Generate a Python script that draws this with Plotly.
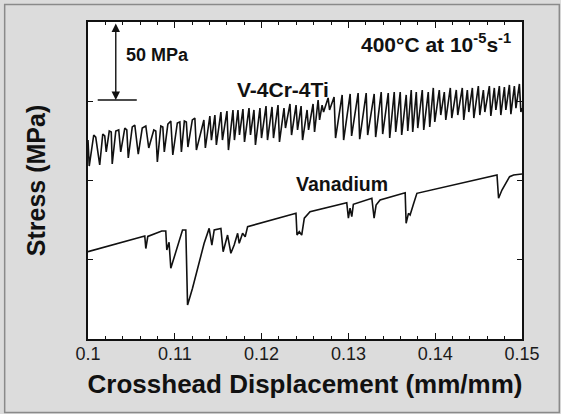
import plotly.graph_objects as go

# ---- data (displacement mm/mm, stress MPa; stress axis has no printed values) ----
van_x = [0.10000, 0.10654, 0.10666, 0.10689, 0.10850, 0.10896, 0.10908, 0.10934, 0.10954,
         0.11089, 0.11127, 0.11147, 0.11204, 0.11281, 0.11338, 0.11396, 0.11427, 0.11454,
         0.11531, 0.11557, 0.11608, 0.11646, 0.11684, 0.11724, 0.11742, 0.11781, 0.11811,
         0.11839, 0.12396, 0.12408, 0.12434, 0.12462, 0.12492, 0.12558, 0.12981, 0.13000,
         0.13019, 0.13039, 0.13057, 0.13270, 0.13296, 0.13319, 0.13365, 0.13654, 0.13665,
         0.13692, 0.13711, 0.13749, 0.13789, 0.14712, 0.14730, 0.14769, 0.14819, 0.14857,
         0.14903, 0.15000]
van_y = [255.1, 265.0, 257.1, 264.7, 268.1, 268.1, 256.2, 261.0, 244.6,
         268.8, 268.8, 221.5, 232.0, 248.8, 260.4, 269.8, 259.3, 268.8,
         269.8, 255.1, 265.6, 254.1, 259.3, 266.7, 260.4, 266.7, 264.5,
         270.9, 279.3, 265.6, 267.7, 265.6, 276.2, 280.3, 286.0, 276.2,
         282.5, 277.2, 285.0, 288.8, 276.2, 284.5, 287.7, 292.3, 273.0,
         279.3, 278.2, 285.0, 291.9, 303.5, 288.8, 294.0, 299.2, 302.4,
         303.5, 304.1]

alloy_x = [0.10000, 0.10014, 0.10066, 0.10089, 0.10135, 0.10170, 0.10193, 0.10210, 0.10245, 0.10268,
           0.10279, 0.10320, 0.10354, 0.10377, 0.10424, 0.10447, 0.10464, 0.10510, 0.10539, 0.10579,
           0.10625, 0.10666, 0.10700, 0.10758, 0.10781, 0.10799, 0.10839, 0.10862, 0.10879, 0.10920,
           0.10954, 0.10977, 0.11029, 0.11058, 0.11076, 0.11110, 0.11133, 0.11151, 0.11202, 0.11231,
           0.11249,
           0.11335, 0.11352, 0.11404, 0.11422, 0.11462, 0.11479,
           0.11531, 0.11549, 0.11601, 0.11618, 0.11670, 0.11687, 0.11728, 0.11745, 0.11785, 0.11803,
           0.11855, 0.11872, 0.11912, 0.11929, 0.11981, 0.11999, 0.12051, 0.12068, 0.12120, 0.12137,
           0.12189, 0.12206, 0.12258, 0.12275, 0.12327, 0.12345, 0.12397, 0.12414, 0.12455, 0.12472,
           0.12524, 0.12541, 0.12593, 0.12610, 0.12651, 0.12668, 0.12697, 0.12714, 0.12766, 0.12783,
           0.12835, 0.12852, 0.12928, 0.12945, 0.13020, 0.13037, 0.13112, 0.13130, 0.13205, 0.13222,
           0.13297, 0.13314, 0.13378, 0.13395, 0.13459, 0.13476, 0.13528, 0.13545, 0.13597, 0.13614,
           0.13666, 0.13684, 0.13724, 0.13741, 0.13782, 0.13799, 0.13851, 0.13868, 0.13920, 0.13937,
           0.13978, 0.13995, 0.14047, 0.14064, 0.14105, 0.14122, 0.14174, 0.14191, 0.14243, 0.14260,
           0.14312, 0.14329, 0.14370, 0.14387, 0.14428, 0.14445, 0.14497, 0.14514, 0.14555, 0.14572,
           0.14624, 0.14641, 0.14681, 0.14699, 0.14739, 0.14756, 0.14797, 0.14814, 0.14855, 0.14872,
           0.14912, 0.14930, 0.14970, 0.14987, 0.15000]
alloy_y = [325.5, 309.1, 328.7, 327.4, 309.8, 329.3, 328.1, 318.0, 331.2, 330.6,
           310.4, 331.2, 331.9, 318.0, 333.1, 331.9, 314.2, 333.8, 335.0, 316.7,
           333.1, 334.4, 320.5, 331.9, 331.2, 311.7, 334.4, 333.8, 318.0, 335.6,
           337.5, 316.1, 336.3, 336.9, 318.0, 337.5, 336.9, 321.1, 338.2, 339.4,
           319.2,
           338.2, 320.5, 340.7, 325.5, 341.3, 322.4,
           343.2, 325.5, 343.8, 319.2, 344.5, 325.5, 344.5, 328.7, 345.1, 324.3,
           345.7, 328.7, 344.5, 322.4, 345.7, 326.8, 347.0, 325.5, 346.4, 326.8,
           347.6, 324.3, 345.7, 333.1, 348.3, 328.7, 347.6, 331.9, 347.0, 325.5,
           344.5, 331.9, 348.3, 330.6, 350.8, 338.2, 347.6, 343.2, 352.1, 344.5,
           352.7, 326.8, 354.0, 325.5, 354.6, 328.1, 355.2, 326.1, 355.2, 328.7,
           354.6, 327.4, 355.8, 329.3, 355.2, 326.8, 355.8, 330.6, 355.8, 328.7,
           354.0, 331.2, 357.1, 330.6, 355.8, 333.1, 357.1, 331.9, 355.8, 333.8,
           358.4, 336.9, 357.1, 341.3, 355.8, 338.2, 358.4, 339.4, 357.1, 341.3,
           358.4, 338.2, 357.1, 343.2, 358.4, 339.4, 359.6, 341.3, 357.1, 343.2,
           359.6, 340.7, 358.4, 344.5, 359.6, 341.3, 359.0, 344.5, 360.3, 341.9,
           359.6, 345.7, 360.9, 343.2, 345.7]

x_ticks = [0.10, 0.11, 0.12, 0.13, 0.14, 0.15]
x_tick_text = ["0.1", "0.11", "0.12", "0.13", "0.14", "0.15"]
y_ticks = [250, 300, 350]
y_range = [200, 400]

# 50 MPa scale bar
bar_x = 0.1032
bar_low, bar_high = 350.8, 400
bar_line_x = [0.10112, 0.10562]

FONT = "Liberation Sans, Arial, Helvetica, sans-serif"

fig = go.Figure()
fig.add_trace(go.Scatter(x=alloy_x, y=alloy_y, mode="lines",
                         line=dict(color="#111111", width=1.6), showlegend=False))
fig.add_trace(go.Scatter(x=van_x, y=van_y, mode="lines",
                         line=dict(color="#111111", width=1.6), showlegend=False))

fig.update_layout(
    width=561, height=414,
    margin=dict(l=88, r=39, t=22, b=75),
    paper_bgcolor="#dcdcdc",
    plot_bgcolor="white",
    font=dict(family=FONT, color="#111111"),
    showlegend=False,
)
fig.update_xaxes(
    range=[0.1, 0.15], tickvals=x_ticks, ticktext=x_tick_text,
    ticks="inside", ticklen=6, tickwidth=1.2, tickcolor="#111111",
    minor=dict(ticks="inside", ticklen=3, dtick=0.002, tick0=0.1, tickcolor="#111111"),
    showline=True, linecolor="#111111", linewidth=1.5, mirror="allticks",
    showgrid=False, zeroline=False,
    tickfont=dict(size=18, color="#1a1a1a"), ticklabelstandoff=-2,
    title=dict(text="<b>Crosshead Displacement (mm/mm)</b>", font=dict(size=26, color="#111111"),
               standoff=11),
)
fig.update_yaxes(
    range=y_range, tickvals=y_ticks, showticklabels=False,
    ticks="inside", ticklen=5, tickwidth=1.2, tickcolor="#111111",
    showline=True, linecolor="#111111", linewidth=1.5, mirror="allticks",
    showgrid=False, zeroline=False,
    title=dict(text="<b>Stress (MPa)</b>", font=dict(size=25, color="#111111"), standoff=34),
)

# scale bar arrow
fig.add_annotation(x=bar_x, y=bar_low, ax=bar_x, ay=bar_high, xref="x", yref="y",
                   axref="x", ayref="y", text="", showarrow=True, arrowhead=2,
                   arrowside="end+start", arrowsize=1.2, arrowwidth=1.4, arrowcolor="#111111",
                   standoff=0, startstandoff=0)
fig.add_shape(type="line", xref="x", yref="y", x0=bar_line_x[0], x1=bar_line_x[1],
              y0=bar_low, y1=bar_low, line=dict(color="#111111", width=1.4))

fig.add_annotation(x=0.0824, y=0.896, xref="paper", yref="paper", text="<b>50 MPa</b>",
                   showarrow=False, xanchor="left", yanchor="middle", font=dict(size=18))
fig.add_annotation(x=0.449, y=0.7855, xref="paper", yref="paper", text="<b>V-4Cr-4Ti</b>",
                   showarrow=False, xanchor="center", yanchor="middle", font=dict(size=21))
fig.add_annotation(x=0.980, y=0.935, xref="paper", yref="paper",
                   text="<b>400°C at 10<sup>-5</sup>s<sup>-1</sup></b>",
                   showarrow=False, xanchor="right", yanchor="middle", font=dict(size=21))
fig.add_annotation(x=0.585, y=0.489, xref="paper", yref="paper", text="<b>Vanadium</b>",
                   showarrow=False, xanchor="center", yanchor="middle", font=dict(size=19.5))

# outer frame
fig.add_shape(type="rect", xref="paper", yref="paper", x0=-0.192, x1=1.086, y0=-0.232, y1=1.055,
              line=dict(color="#8a8a8a", width=1.5), layer="above")

fig.write_html("out.html", config={"displayModeBar": False},
               post_script="document.body.style.margin='0';document.body.style.padding='0';")
